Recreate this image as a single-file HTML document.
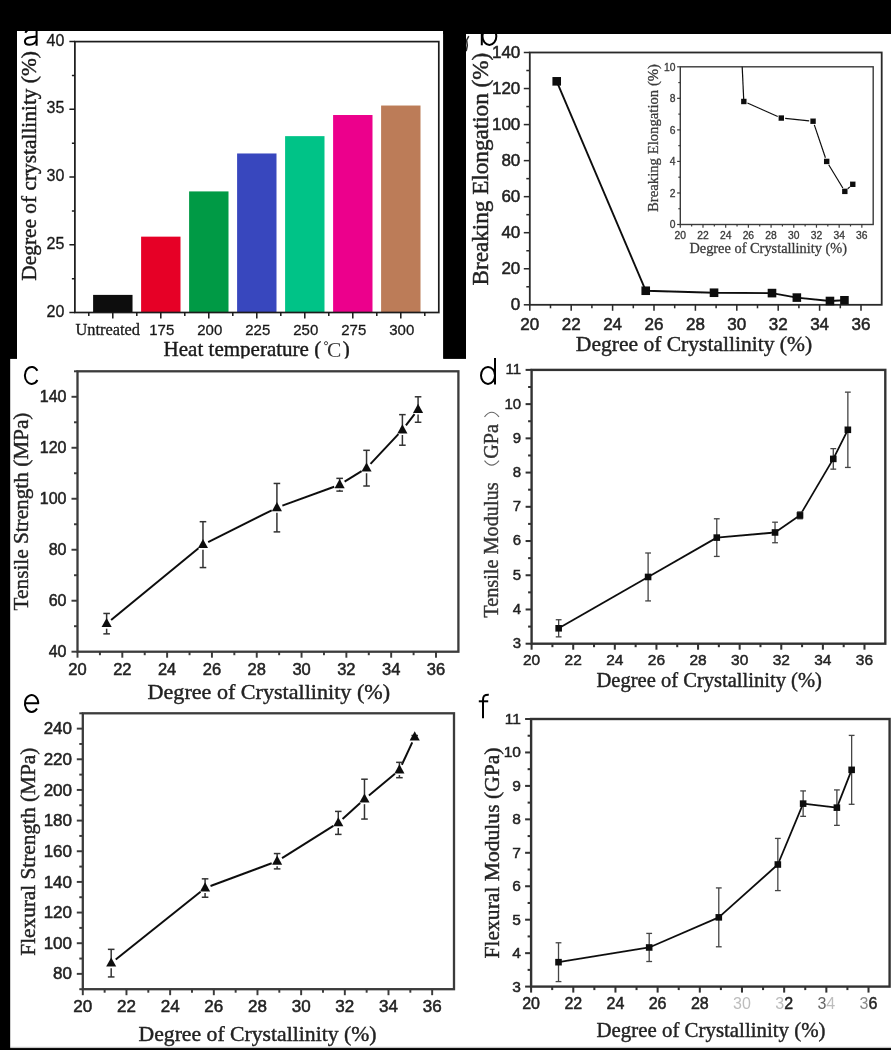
<!DOCTYPE html>
<html><head><meta charset="utf-8"><title>Figure</title>
<style>
html,body{margin:0;padding:0;background:#000;}
body{width:891px;height:1050px;overflow:hidden;font-family:"Liberation Sans",sans-serif;}
svg{display:block;}
</style></head><body>
<svg width="891" height="1050" viewBox="0 0 891 1050">
<defs>
<filter id="bl" x="-2%" y="-2%" width="104%" height="104%"><feGaussianBlur stdDeviation="0.7"/></filter>
<clipPath id="cpA"><rect x="17" y="31" width="426.3" height="327.6"/></clipPath>
<clipPath id="cpB"><rect x="466" y="34" width="425" height="326"/></clipPath>
<clipPath id="cpIn"><rect x="680.3" y="66.8" width="193" height="158"/></clipPath>
</defs>
<rect x="0" y="0" width="891" height="1050" fill="#000"/>

<rect x="17" y="31" width="426.3" height="328" fill="#fff"/>
<rect x="466" y="34" width="425" height="326" fill="#fff"/>
<rect x="10.1" y="358.7" width="881" height="688.3" fill="#fff"/>
<rect x="10.1" y="1046.8" width="881" height="1.5" fill="#c8c8c8"/>
<g filter="url(#bl)">
<g clip-path="url(#cpA)">
<rect x="93.10" y="294.89" width="39.4" height="17.61" fill="#0a0a0a"/>
<rect x="141.10" y="236.65" width="39.4" height="75.85" fill="#e60027"/>
<rect x="189.10" y="191.41" width="39.4" height="121.09" fill="#009a44"/>
<rect x="237.10" y="153.48" width="39.4" height="159.02" fill="#3846be"/>
<rect x="285.10" y="136.14" width="39.4" height="176.36" fill="#00c387"/>
<rect x="333.10" y="115.01" width="39.4" height="197.49" fill="#ec008c"/>
<rect x="381.10" y="105.53" width="39.4" height="206.97" fill="#bc7c58"/>
<rect x="74.90" y="41.60" width="363.90" height="270.90" fill="none" stroke="#1a1a1a" stroke-width="1.7"/>
<line x1="88.80" y1="312.50" x2="88.80" y2="316.00" stroke="#1a1a1a" stroke-width="1.5" />
<line x1="112.80" y1="312.50" x2="112.80" y2="318.50" stroke="#1a1a1a" stroke-width="1.5" />
<line x1="136.80" y1="312.50" x2="136.80" y2="316.00" stroke="#1a1a1a" stroke-width="1.5" />
<line x1="160.80" y1="312.50" x2="160.80" y2="318.50" stroke="#1a1a1a" stroke-width="1.5" />
<line x1="184.80" y1="312.50" x2="184.80" y2="316.00" stroke="#1a1a1a" stroke-width="1.5" />
<line x1="208.80" y1="312.50" x2="208.80" y2="318.50" stroke="#1a1a1a" stroke-width="1.5" />
<line x1="232.80" y1="312.50" x2="232.80" y2="316.00" stroke="#1a1a1a" stroke-width="1.5" />
<line x1="256.80" y1="312.50" x2="256.80" y2="318.50" stroke="#1a1a1a" stroke-width="1.5" />
<line x1="280.80" y1="312.50" x2="280.80" y2="316.00" stroke="#1a1a1a" stroke-width="1.5" />
<line x1="304.80" y1="312.50" x2="304.80" y2="318.50" stroke="#1a1a1a" stroke-width="1.5" />
<line x1="328.80" y1="312.50" x2="328.80" y2="316.00" stroke="#1a1a1a" stroke-width="1.5" />
<line x1="352.80" y1="312.50" x2="352.80" y2="318.50" stroke="#1a1a1a" stroke-width="1.5" />
<line x1="376.80" y1="312.50" x2="376.80" y2="316.00" stroke="#1a1a1a" stroke-width="1.5" />
<line x1="400.80" y1="312.50" x2="400.80" y2="318.50" stroke="#1a1a1a" stroke-width="1.5" />
<line x1="424.80" y1="312.50" x2="424.80" y2="316.00" stroke="#1a1a1a" stroke-width="1.5" />
<line x1="69.40" y1="312.50" x2="74.90" y2="312.50" stroke="#1a1a1a" stroke-width="1.5" />
<text x="64.40" y="316.66" font-family='"Liberation Sans", sans-serif' font-size="16" text-anchor="end" fill="#1a1a1a" stroke="#1a1a1a" stroke-width="0.311" >20</text>
<line x1="71.90" y1="278.64" x2="74.90" y2="278.64" stroke="#1a1a1a" stroke-width="1.5" />
<line x1="69.40" y1="244.78" x2="74.90" y2="244.78" stroke="#1a1a1a" stroke-width="1.5" />
<text x="64.40" y="248.94" font-family='"Liberation Sans", sans-serif' font-size="16" text-anchor="end" fill="#1a1a1a" stroke="#1a1a1a" stroke-width="0.311" >25</text>
<line x1="71.90" y1="210.91" x2="74.90" y2="210.91" stroke="#1a1a1a" stroke-width="1.5" />
<line x1="69.40" y1="177.05" x2="74.90" y2="177.05" stroke="#1a1a1a" stroke-width="1.5" />
<text x="64.40" y="181.21" font-family='"Liberation Sans", sans-serif' font-size="16" text-anchor="end" fill="#1a1a1a" stroke="#1a1a1a" stroke-width="0.311" >30</text>
<line x1="71.90" y1="143.19" x2="74.90" y2="143.19" stroke="#1a1a1a" stroke-width="1.5" />
<line x1="69.40" y1="109.33" x2="74.90" y2="109.33" stroke="#1a1a1a" stroke-width="1.5" />
<text x="64.40" y="113.49" font-family='"Liberation Sans", sans-serif' font-size="16" text-anchor="end" fill="#1a1a1a" stroke="#1a1a1a" stroke-width="0.311" >35</text>
<line x1="71.90" y1="75.46" x2="74.90" y2="75.46" stroke="#1a1a1a" stroke-width="1.5" />
<line x1="69.40" y1="41.60" x2="74.90" y2="41.60" stroke="#1a1a1a" stroke-width="1.5" />
<text x="64.40" y="45.76" font-family='"Liberation Sans", sans-serif' font-size="16" text-anchor="end" fill="#1a1a1a" stroke="#1a1a1a" stroke-width="0.311" >40</text>
<text x="107.80" y="334.60" font-family='"Liberation Serif", serif' font-size="16" text-anchor="middle" fill="#1a1a1a" stroke="#1a1a1a" stroke-width="0.311" textLength="64.5" lengthAdjust="spacingAndGlyphs" >Untreated</text>
<text x="161.80" y="334.60" font-family='"Liberation Sans", sans-serif' font-size="15" text-anchor="middle" fill="#1a1a1a" stroke="#1a1a1a" stroke-width="0.292" >175</text>
<text x="209.80" y="334.60" font-family='"Liberation Sans", sans-serif' font-size="15" text-anchor="middle" fill="#1a1a1a" stroke="#1a1a1a" stroke-width="0.292" >200</text>
<text x="257.80" y="334.60" font-family='"Liberation Sans", sans-serif' font-size="15" text-anchor="middle" fill="#1a1a1a" stroke="#1a1a1a" stroke-width="0.292" >225</text>
<text x="305.80" y="334.60" font-family='"Liberation Sans", sans-serif' font-size="15" text-anchor="middle" fill="#1a1a1a" stroke="#1a1a1a" stroke-width="0.292" >250</text>
<text x="353.80" y="334.60" font-family='"Liberation Sans", sans-serif' font-size="15" text-anchor="middle" fill="#1a1a1a" stroke="#1a1a1a" stroke-width="0.292" >275</text>
<text x="401.80" y="334.60" font-family='"Liberation Sans", sans-serif' font-size="15" text-anchor="middle" fill="#1a1a1a" stroke="#1a1a1a" stroke-width="0.292" >300</text>
<text x="321.20" y="356.40" font-family='"Liberation Serif", serif' font-size="21" text-anchor="end" fill="#1a1a1a" stroke="#1a1a1a" stroke-width="0.408" textLength="157.6" lengthAdjust="spacingAndGlyphs" >Heat temperature (</text>
<circle cx="326" cy="343.2" r="1.6" fill="none" stroke="#333" stroke-width="0.9"/>
<text x="327.00" y="356.60" font-family='"Liberation Serif", serif' font-size="21.5" text-anchor="start" fill="#333" >C</text>
<text x="342.80" y="356.40" font-family='"Liberation Serif", serif' font-size="21" text-anchor="start" fill="#1a1a1a" stroke="#1a1a1a" stroke-width="0.408" >)</text>
<text x="35.70" y="165.90" font-family='"Liberation Serif", serif' font-size="21.4" text-anchor="middle" fill="#1a1a1a" stroke="#1a1a1a" stroke-width="0.416" transform="rotate(-90 35.70 165.90)" textLength="229.6" lengthAdjust="spacingAndGlyphs" >Degree of crystallinity (%)</text>
<path d="M36.6,28 V45.8" fill="none" stroke="#000" stroke-width="2.0" stroke-linecap="butt" stroke-linejoin="round"/>
<path d="M36.6,36.6 L30.5,37.2 C27,37.6 24.9,39 24.9,41.3 C24.9,43.6 26.8,44.8 29.5,44.8 C33,44.8 36.6,42.5 36.6,39.5" fill="none" stroke="#000" stroke-width="2.0" stroke-linecap="butt" stroke-linejoin="round"/>
<path d="M25.3,32.8 C26.3,30.8 28,29.6 30.5,29.2" fill="none" stroke="#000" stroke-width="2.0" stroke-linecap="butt" stroke-linejoin="round"/>
</g>
<g clip-path="url(#cpB)">
<rect x="529.80" y="52.50" width="351.90" height="252.30" fill="none" stroke="#2a2a2a" stroke-width="1.8"/>
<line x1="529.80" y1="304.80" x2="529.80" y2="310.80" stroke="#2a2a2a" stroke-width="1.53" />
<line x1="550.50" y1="304.80" x2="550.50" y2="308.30" stroke="#2a2a2a" stroke-width="1.53" />
<line x1="571.20" y1="304.80" x2="571.20" y2="310.80" stroke="#2a2a2a" stroke-width="1.53" />
<line x1="591.90" y1="304.80" x2="591.90" y2="308.30" stroke="#2a2a2a" stroke-width="1.53" />
<line x1="612.60" y1="304.80" x2="612.60" y2="310.80" stroke="#2a2a2a" stroke-width="1.53" />
<line x1="633.30" y1="304.80" x2="633.30" y2="308.30" stroke="#2a2a2a" stroke-width="1.53" />
<line x1="654.00" y1="304.80" x2="654.00" y2="310.80" stroke="#2a2a2a" stroke-width="1.53" />
<line x1="674.70" y1="304.80" x2="674.70" y2="308.30" stroke="#2a2a2a" stroke-width="1.53" />
<line x1="695.40" y1="304.80" x2="695.40" y2="310.80" stroke="#2a2a2a" stroke-width="1.53" />
<line x1="716.10" y1="304.80" x2="716.10" y2="308.30" stroke="#2a2a2a" stroke-width="1.53" />
<line x1="736.80" y1="304.80" x2="736.80" y2="310.80" stroke="#2a2a2a" stroke-width="1.53" />
<line x1="757.50" y1="304.80" x2="757.50" y2="308.30" stroke="#2a2a2a" stroke-width="1.53" />
<line x1="778.20" y1="304.80" x2="778.20" y2="310.80" stroke="#2a2a2a" stroke-width="1.53" />
<line x1="798.90" y1="304.80" x2="798.90" y2="308.30" stroke="#2a2a2a" stroke-width="1.53" />
<line x1="819.60" y1="304.80" x2="819.60" y2="310.80" stroke="#2a2a2a" stroke-width="1.53" />
<line x1="840.30" y1="304.80" x2="840.30" y2="308.30" stroke="#2a2a2a" stroke-width="1.53" />
<line x1="861.00" y1="304.80" x2="861.00" y2="310.80" stroke="#2a2a2a" stroke-width="1.53" />
<text x="529.80" y="330.00" font-family='"Liberation Sans", sans-serif' font-size="17" text-anchor="middle" fill="#222" stroke="#222" stroke-width="0.519" >20</text>
<text x="571.20" y="330.00" font-family='"Liberation Sans", sans-serif' font-size="17" text-anchor="middle" fill="#222" stroke="#222" stroke-width="0.519" >22</text>
<text x="612.60" y="330.00" font-family='"Liberation Sans", sans-serif' font-size="17" text-anchor="middle" fill="#222" stroke="#222" stroke-width="0.519" >24</text>
<text x="654.00" y="330.00" font-family='"Liberation Sans", sans-serif' font-size="17" text-anchor="middle" fill="#222" stroke="#222" stroke-width="0.519" >26</text>
<text x="695.40" y="330.00" font-family='"Liberation Sans", sans-serif' font-size="17" text-anchor="middle" fill="#222" stroke="#222" stroke-width="0.519" >28</text>
<text x="736.80" y="330.00" font-family='"Liberation Sans", sans-serif' font-size="17" text-anchor="middle" fill="#222" stroke="#222" stroke-width="0.519" >30</text>
<text x="778.20" y="330.00" font-family='"Liberation Sans", sans-serif' font-size="17" text-anchor="middle" fill="#222" stroke="#222" stroke-width="0.519" >32</text>
<text x="819.60" y="330.00" font-family='"Liberation Sans", sans-serif' font-size="17" text-anchor="middle" fill="#222" stroke="#222" stroke-width="0.519" >34</text>
<text x="861.00" y="330.00" font-family='"Liberation Sans", sans-serif' font-size="17" text-anchor="middle" fill="#222" stroke="#222" stroke-width="0.519" >36</text>
<line x1="523.80" y1="304.80" x2="529.80" y2="304.80" stroke="#2a2a2a" stroke-width="1.53" />
<line x1="526.30" y1="286.78" x2="529.80" y2="286.78" stroke="#2a2a2a" stroke-width="1.53" />
<line x1="523.80" y1="268.76" x2="529.80" y2="268.76" stroke="#2a2a2a" stroke-width="1.53" />
<line x1="526.30" y1="250.74" x2="529.80" y2="250.74" stroke="#2a2a2a" stroke-width="1.53" />
<line x1="523.80" y1="232.71" x2="529.80" y2="232.71" stroke="#2a2a2a" stroke-width="1.53" />
<line x1="526.30" y1="214.69" x2="529.80" y2="214.69" stroke="#2a2a2a" stroke-width="1.53" />
<line x1="523.80" y1="196.67" x2="529.80" y2="196.67" stroke="#2a2a2a" stroke-width="1.53" />
<line x1="526.30" y1="178.65" x2="529.80" y2="178.65" stroke="#2a2a2a" stroke-width="1.53" />
<line x1="523.80" y1="160.63" x2="529.80" y2="160.63" stroke="#2a2a2a" stroke-width="1.53" />
<line x1="526.30" y1="142.61" x2="529.80" y2="142.61" stroke="#2a2a2a" stroke-width="1.53" />
<line x1="523.80" y1="124.59" x2="529.80" y2="124.59" stroke="#2a2a2a" stroke-width="1.53" />
<line x1="526.30" y1="106.56" x2="529.80" y2="106.56" stroke="#2a2a2a" stroke-width="1.53" />
<line x1="523.80" y1="88.54" x2="529.80" y2="88.54" stroke="#2a2a2a" stroke-width="1.53" />
<line x1="526.30" y1="70.52" x2="529.80" y2="70.52" stroke="#2a2a2a" stroke-width="1.53" />
<line x1="523.80" y1="52.50" x2="529.80" y2="52.50" stroke="#2a2a2a" stroke-width="1.53" />
<text x="520.30" y="310.12" font-family='"Liberation Sans", sans-serif' font-size="17" text-anchor="end" fill="#222" stroke="#222" stroke-width="0.519" >0</text>
<text x="520.30" y="274.08" font-family='"Liberation Sans", sans-serif' font-size="17" text-anchor="end" fill="#222" stroke="#222" stroke-width="0.519" >20</text>
<text x="520.30" y="238.03" font-family='"Liberation Sans", sans-serif' font-size="17" text-anchor="end" fill="#222" stroke="#222" stroke-width="0.519" >40</text>
<text x="520.30" y="201.99" font-family='"Liberation Sans", sans-serif' font-size="17" text-anchor="end" fill="#222" stroke="#222" stroke-width="0.519" >60</text>
<text x="520.30" y="165.95" font-family='"Liberation Sans", sans-serif' font-size="17" text-anchor="end" fill="#222" stroke="#222" stroke-width="0.519" >80</text>
<text x="520.30" y="129.91" font-family='"Liberation Sans", sans-serif' font-size="17" text-anchor="end" fill="#222" stroke="#222" stroke-width="0.519" >100</text>
<text x="520.30" y="93.86" font-family='"Liberation Sans", sans-serif' font-size="17" text-anchor="end" fill="#222" stroke="#222" stroke-width="0.519" >120</text>
<text x="520.30" y="57.82" font-family='"Liberation Sans", sans-serif' font-size="17" text-anchor="end" fill="#222" stroke="#222" stroke-width="0.519" >140</text>
<path d="M556.71,81.33 L645.72,290.74 M645.72,290.74 L714.03,292.73 M714.03,292.73 L771.99,293.09 M771.99,293.09 L796.83,297.59 M796.83,297.59 L829.95,301.02 M829.95,301.02 L844.44,300.29" fill="none" stroke="#111" stroke-width="1.9"/>
<rect x="552.41" y="77.03" width="8.6" height="8.6" fill="#111"/>
<rect x="641.42" y="286.44" width="8.6" height="8.6" fill="#111"/>
<rect x="709.73" y="288.43" width="8.6" height="8.6" fill="#111"/>
<rect x="767.69" y="288.79" width="8.6" height="8.6" fill="#111"/>
<rect x="792.53" y="293.29" width="8.6" height="8.6" fill="#111"/>
<rect x="825.65" y="296.72" width="8.6" height="8.6" fill="#111"/>
<rect x="840.14" y="295.99" width="8.6" height="8.6" fill="#111"/>
<text x="694.00" y="350.90" font-family='"Liberation Serif", serif' font-size="21.5" text-anchor="middle" fill="#222" stroke="#222" stroke-width="0.418" textLength="236.3" lengthAdjust="spacingAndGlyphs" >Degree of Crystallinity (%)</text>
<text x="487.60" y="169.10" font-family='"Liberation Serif", serif' font-size="23.2" text-anchor="middle" fill="#222" stroke="#222" stroke-width="0.451" transform="rotate(-90 487.60 169.10)" textLength="232.8" lengthAdjust="spacingAndGlyphs" >Breaking Elongation (%)</text>
<rect x="680.30" y="66.80" width="192.90" height="157.70" fill="none" stroke="#3a3a3a" stroke-width="1.4"/>
<line x1="680.30" y1="224.50" x2="680.30" y2="227.70" stroke="#3a3a3a" stroke-width="1.19" />
<line x1="691.65" y1="224.50" x2="691.65" y2="226.50" stroke="#3a3a3a" stroke-width="1.19" />
<line x1="702.99" y1="224.50" x2="702.99" y2="227.70" stroke="#3a3a3a" stroke-width="1.19" />
<line x1="714.34" y1="224.50" x2="714.34" y2="226.50" stroke="#3a3a3a" stroke-width="1.19" />
<line x1="725.69" y1="224.50" x2="725.69" y2="227.70" stroke="#3a3a3a" stroke-width="1.19" />
<line x1="737.04" y1="224.50" x2="737.04" y2="226.50" stroke="#3a3a3a" stroke-width="1.19" />
<line x1="748.38" y1="224.50" x2="748.38" y2="227.70" stroke="#3a3a3a" stroke-width="1.19" />
<line x1="759.73" y1="224.50" x2="759.73" y2="226.50" stroke="#3a3a3a" stroke-width="1.19" />
<line x1="771.08" y1="224.50" x2="771.08" y2="227.70" stroke="#3a3a3a" stroke-width="1.19" />
<line x1="782.42" y1="224.50" x2="782.42" y2="226.50" stroke="#3a3a3a" stroke-width="1.19" />
<line x1="793.77" y1="224.50" x2="793.77" y2="227.70" stroke="#3a3a3a" stroke-width="1.19" />
<line x1="805.12" y1="224.50" x2="805.12" y2="226.50" stroke="#3a3a3a" stroke-width="1.19" />
<line x1="816.46" y1="224.50" x2="816.46" y2="227.70" stroke="#3a3a3a" stroke-width="1.19" />
<line x1="827.81" y1="224.50" x2="827.81" y2="226.50" stroke="#3a3a3a" stroke-width="1.19" />
<line x1="839.16" y1="224.50" x2="839.16" y2="227.70" stroke="#3a3a3a" stroke-width="1.19" />
<line x1="850.51" y1="224.50" x2="850.51" y2="226.50" stroke="#3a3a3a" stroke-width="1.19" />
<line x1="861.85" y1="224.50" x2="861.85" y2="227.70" stroke="#3a3a3a" stroke-width="1.19" />
<text x="680.30" y="239.10" font-family='"Liberation Sans", sans-serif' font-size="10.3" text-anchor="middle" fill="#3a3a3a" stroke="#3a3a3a" stroke-width="0.315" >20</text>
<text x="702.99" y="239.10" font-family='"Liberation Sans", sans-serif' font-size="10.3" text-anchor="middle" fill="#3a3a3a" stroke="#3a3a3a" stroke-width="0.315" >22</text>
<text x="725.69" y="239.10" font-family='"Liberation Sans", sans-serif' font-size="10.3" text-anchor="middle" fill="#3a3a3a" stroke="#3a3a3a" stroke-width="0.315" >24</text>
<text x="748.38" y="239.10" font-family='"Liberation Sans", sans-serif' font-size="10.3" text-anchor="middle" fill="#3a3a3a" stroke="#3a3a3a" stroke-width="0.315" >26</text>
<text x="771.08" y="239.10" font-family='"Liberation Sans", sans-serif' font-size="10.3" text-anchor="middle" fill="#3a3a3a" stroke="#3a3a3a" stroke-width="0.315" >28</text>
<text x="793.77" y="239.10" font-family='"Liberation Sans", sans-serif' font-size="10.3" text-anchor="middle" fill="#3a3a3a" stroke="#3a3a3a" stroke-width="0.315" >30</text>
<text x="816.46" y="239.10" font-family='"Liberation Sans", sans-serif' font-size="10.3" text-anchor="middle" fill="#3a3a3a" stroke="#3a3a3a" stroke-width="0.315" >32</text>
<text x="839.16" y="239.10" font-family='"Liberation Sans", sans-serif' font-size="10.3" text-anchor="middle" fill="#3a3a3a" stroke="#3a3a3a" stroke-width="0.315" >34</text>
<text x="861.85" y="239.10" font-family='"Liberation Sans", sans-serif' font-size="10.3" text-anchor="middle" fill="#3a3a3a" stroke="#3a3a3a" stroke-width="0.315" >36</text>
<line x1="677.10" y1="224.50" x2="680.30" y2="224.50" stroke="#3a3a3a" stroke-width="1.19" />
<line x1="678.30" y1="208.73" x2="680.30" y2="208.73" stroke="#3a3a3a" stroke-width="1.19" />
<line x1="677.10" y1="192.96" x2="680.30" y2="192.96" stroke="#3a3a3a" stroke-width="1.19" />
<line x1="678.30" y1="177.19" x2="680.30" y2="177.19" stroke="#3a3a3a" stroke-width="1.19" />
<line x1="677.10" y1="161.42" x2="680.30" y2="161.42" stroke="#3a3a3a" stroke-width="1.19" />
<line x1="678.30" y1="145.65" x2="680.30" y2="145.65" stroke="#3a3a3a" stroke-width="1.19" />
<line x1="677.10" y1="129.88" x2="680.30" y2="129.88" stroke="#3a3a3a" stroke-width="1.19" />
<line x1="678.30" y1="114.11" x2="680.30" y2="114.11" stroke="#3a3a3a" stroke-width="1.19" />
<line x1="677.10" y1="98.34" x2="680.30" y2="98.34" stroke="#3a3a3a" stroke-width="1.19" />
<line x1="678.30" y1="82.57" x2="680.30" y2="82.57" stroke="#3a3a3a" stroke-width="1.19" />
<line x1="677.10" y1="66.80" x2="680.30" y2="66.80" stroke="#3a3a3a" stroke-width="1.19" />
<text x="675.50" y="228.21" font-family='"Liberation Sans", sans-serif' font-size="10.3" text-anchor="end" fill="#3a3a3a" stroke="#3a3a3a" stroke-width="0.315" >0</text>
<text x="675.50" y="196.67" font-family='"Liberation Sans", sans-serif' font-size="10.3" text-anchor="end" fill="#3a3a3a" stroke="#3a3a3a" stroke-width="0.315" >2</text>
<text x="675.50" y="165.13" font-family='"Liberation Sans", sans-serif' font-size="10.3" text-anchor="end" fill="#3a3a3a" stroke="#3a3a3a" stroke-width="0.315" >4</text>
<text x="675.50" y="133.59" font-family='"Liberation Sans", sans-serif' font-size="10.3" text-anchor="end" fill="#3a3a3a" stroke="#3a3a3a" stroke-width="0.315" >6</text>
<text x="675.50" y="102.05" font-family='"Liberation Sans", sans-serif' font-size="10.3" text-anchor="end" fill="#3a3a3a" stroke="#3a3a3a" stroke-width="0.315" >8</text>
<text x="675.50" y="70.51" font-family='"Liberation Sans", sans-serif' font-size="10.3" text-anchor="end" fill="#3a3a3a" stroke="#3a3a3a" stroke-width="0.315" >10</text>
<path d="M747.41,103.07 L777.72,116.48 M785.17,118.44 L809.18,120.82 M814.31,124.90 L825.43,157.73 M828.70,164.76 L842.81,188.05 M847.74,188.78 L849.87,186.88" fill="none" stroke="#111" stroke-width="1.2"/>
<rect x="741.14" y="98.79" width="5.4" height="5.4" fill="#111"/>
<rect x="778.59" y="115.35" width="5.4" height="5.4" fill="#111"/>
<rect x="810.36" y="118.51" width="5.4" height="5.4" fill="#111"/>
<rect x="823.98" y="158.72" width="5.4" height="5.4" fill="#111"/>
<rect x="842.13" y="188.68" width="5.4" height="5.4" fill="#111"/>
<rect x="850.08" y="181.59" width="5.4" height="5.4" fill="#111"/>
<text x="768.20" y="253.30" font-family='"Liberation Serif", serif' font-size="14.3" text-anchor="middle" fill="#3a3a3a" stroke="#3a3a3a" stroke-width="0.278" textLength="157.6" lengthAdjust="spacingAndGlyphs" >Degree of Crystallinity (%)</text>
<text x="657.60" y="138.00" font-family='"Liberation Serif", serif' font-size="14.6" text-anchor="middle" fill="#3a3a3a" stroke="#3a3a3a" stroke-width="0.284" transform="rotate(-90 657.60 138.00)" textLength="147.9" lengthAdjust="spacingAndGlyphs" >Breaking Elongation (%)</text>
<path d="M743.8,101.5 L742.2,66.8" stroke="#111" stroke-width="1.2" fill="none"/>
<path d="M481.8,28 V45.3" fill="none" stroke="#000" stroke-width="2.0" stroke-linecap="butt" stroke-linejoin="round"/>
<ellipse cx="489.4" cy="36.4" rx="6.9" ry="8.6" fill="none" stroke="#000" stroke-width="2.0"/>
<path d="M468.8,36.2 L466.6,40.2 L467.3,45.5 L466.2,51.2" fill="none" stroke="#2a2a2a" stroke-width="1.5"/>
</g>
<rect x="77.50" y="371.30" width="380.90" height="280.40" fill="none" stroke="#3a3a3a" stroke-width="2.3"/>
<line x1="77.50" y1="651.70" x2="77.50" y2="657.70" stroke="#3a3a3a" stroke-width="1.9549999999999998" />
<line x1="99.91" y1="651.70" x2="99.91" y2="655.20" stroke="#3a3a3a" stroke-width="1.9549999999999998" />
<line x1="122.31" y1="651.70" x2="122.31" y2="657.70" stroke="#3a3a3a" stroke-width="1.9549999999999998" />
<line x1="144.72" y1="651.70" x2="144.72" y2="655.20" stroke="#3a3a3a" stroke-width="1.9549999999999998" />
<line x1="167.12" y1="651.70" x2="167.12" y2="657.70" stroke="#3a3a3a" stroke-width="1.9549999999999998" />
<line x1="189.53" y1="651.70" x2="189.53" y2="655.20" stroke="#3a3a3a" stroke-width="1.9549999999999998" />
<line x1="211.94" y1="651.70" x2="211.94" y2="657.70" stroke="#3a3a3a" stroke-width="1.9549999999999998" />
<line x1="234.34" y1="651.70" x2="234.34" y2="655.20" stroke="#3a3a3a" stroke-width="1.9549999999999998" />
<line x1="256.75" y1="651.70" x2="256.75" y2="657.70" stroke="#3a3a3a" stroke-width="1.9549999999999998" />
<line x1="279.15" y1="651.70" x2="279.15" y2="655.20" stroke="#3a3a3a" stroke-width="1.9549999999999998" />
<line x1="301.56" y1="651.70" x2="301.56" y2="657.70" stroke="#3a3a3a" stroke-width="1.9549999999999998" />
<line x1="323.96" y1="651.70" x2="323.96" y2="655.20" stroke="#3a3a3a" stroke-width="1.9549999999999998" />
<line x1="346.37" y1="651.70" x2="346.37" y2="657.70" stroke="#3a3a3a" stroke-width="1.9549999999999998" />
<line x1="368.78" y1="651.70" x2="368.78" y2="655.20" stroke="#3a3a3a" stroke-width="1.9549999999999998" />
<line x1="391.18" y1="651.70" x2="391.18" y2="657.70" stroke="#3a3a3a" stroke-width="1.9549999999999998" />
<line x1="413.59" y1="651.70" x2="413.59" y2="655.20" stroke="#3a3a3a" stroke-width="1.9549999999999998" />
<line x1="435.99" y1="651.70" x2="435.99" y2="657.70" stroke="#3a3a3a" stroke-width="1.9549999999999998" />
<text x="77.50" y="674.70" font-family='"Liberation Sans", sans-serif' font-size="16.5" text-anchor="middle" fill="#222" stroke="#222" stroke-width="0.504" >20</text>
<text x="122.31" y="674.70" font-family='"Liberation Sans", sans-serif' font-size="16.5" text-anchor="middle" fill="#222" stroke="#222" stroke-width="0.504" >22</text>
<text x="167.12" y="674.70" font-family='"Liberation Sans", sans-serif' font-size="16.5" text-anchor="middle" fill="#222" stroke="#222" stroke-width="0.504" >24</text>
<text x="211.94" y="674.70" font-family='"Liberation Sans", sans-serif' font-size="16.5" text-anchor="middle" fill="#222" stroke="#222" stroke-width="0.504" >26</text>
<text x="256.75" y="674.70" font-family='"Liberation Sans", sans-serif' font-size="16.5" text-anchor="middle" fill="#222" stroke="#222" stroke-width="0.504" >28</text>
<text x="301.56" y="674.70" font-family='"Liberation Sans", sans-serif' font-size="16.5" text-anchor="middle" fill="#222" stroke="#222" stroke-width="0.504" >30</text>
<text x="346.37" y="674.70" font-family='"Liberation Sans", sans-serif' font-size="16.5" text-anchor="middle" fill="#222" stroke="#222" stroke-width="0.504" >32</text>
<text x="391.18" y="674.70" font-family='"Liberation Sans", sans-serif' font-size="16.5" text-anchor="middle" fill="#222" stroke="#222" stroke-width="0.504" >34</text>
<text x="435.99" y="674.70" font-family='"Liberation Sans", sans-serif' font-size="16.5" text-anchor="middle" fill="#222" stroke="#222" stroke-width="0.504" >36</text>
<line x1="71.50" y1="651.70" x2="77.50" y2="651.70" stroke="#3a3a3a" stroke-width="1.9549999999999998" />
<line x1="74.00" y1="626.21" x2="77.50" y2="626.21" stroke="#3a3a3a" stroke-width="1.9549999999999998" />
<line x1="71.50" y1="600.72" x2="77.50" y2="600.72" stroke="#3a3a3a" stroke-width="1.9549999999999998" />
<line x1="74.00" y1="575.23" x2="77.50" y2="575.23" stroke="#3a3a3a" stroke-width="1.9549999999999998" />
<line x1="71.50" y1="549.74" x2="77.50" y2="549.74" stroke="#3a3a3a" stroke-width="1.9549999999999998" />
<line x1="74.00" y1="524.25" x2="77.50" y2="524.25" stroke="#3a3a3a" stroke-width="1.9549999999999998" />
<line x1="71.50" y1="498.75" x2="77.50" y2="498.75" stroke="#3a3a3a" stroke-width="1.9549999999999998" />
<line x1="74.00" y1="473.26" x2="77.50" y2="473.26" stroke="#3a3a3a" stroke-width="1.9549999999999998" />
<line x1="71.50" y1="447.77" x2="77.50" y2="447.77" stroke="#3a3a3a" stroke-width="1.9549999999999998" />
<line x1="74.00" y1="422.28" x2="77.50" y2="422.28" stroke="#3a3a3a" stroke-width="1.9549999999999998" />
<line x1="71.50" y1="396.79" x2="77.50" y2="396.79" stroke="#3a3a3a" stroke-width="1.9549999999999998" />
<line x1="74.00" y1="371.30" x2="77.50" y2="371.30" stroke="#3a3a3a" stroke-width="1.9549999999999998" />
<text x="66.50" y="656.96" font-family='"Liberation Sans", sans-serif' font-size="16" text-anchor="end" fill="#222" stroke="#222" stroke-width="0.489" >40</text>
<text x="66.50" y="605.98" font-family='"Liberation Sans", sans-serif' font-size="16" text-anchor="end" fill="#222" stroke="#222" stroke-width="0.489" >60</text>
<text x="66.50" y="555.00" font-family='"Liberation Sans", sans-serif' font-size="16" text-anchor="end" fill="#222" stroke="#222" stroke-width="0.489" >80</text>
<text x="66.50" y="504.01" font-family='"Liberation Sans", sans-serif' font-size="16" text-anchor="end" fill="#222" stroke="#222" stroke-width="0.489" >100</text>
<text x="66.50" y="453.03" font-family='"Liberation Sans", sans-serif' font-size="16" text-anchor="end" fill="#222" stroke="#222" stroke-width="0.489" >120</text>
<text x="66.50" y="402.05" font-family='"Liberation Sans", sans-serif' font-size="16" text-anchor="end" fill="#222" stroke="#222" stroke-width="0.489" >140</text>
<path d="M111.11,619.98 L198.49,548.32 M208.16,542.04 L271.72,510.27 M282.36,505.68 L334.20,486.73 M344.59,481.69 L361.60,471.21 M370.50,463.93 L398.42,434.16 M405.92,425.33 L414.53,414.13" fill="none" stroke="#111" stroke-width="2.0"/>
<line x1="106.63" y1="613.46" x2="106.63" y2="623.66" stroke="#333" stroke-width="1.5" />
<line x1="106.63" y1="628.71" x2="106.63" y2="633.86" stroke="#333" stroke-width="1.5" />
<line x1="103.33" y1="613.46" x2="109.93" y2="613.46" stroke="#333" stroke-width="1.5" />
<line x1="103.33" y1="633.86" x2="109.93" y2="633.86" stroke="#333" stroke-width="1.5" />
<path d="M106.63,617.91 L111.69,627.11 L101.57,627.11 Z" fill="#111"/>
<line x1="202.97" y1="521.70" x2="202.97" y2="544.64" stroke="#333" stroke-width="1.5" />
<line x1="202.97" y1="549.69" x2="202.97" y2="567.58" stroke="#333" stroke-width="1.5" />
<line x1="199.67" y1="521.70" x2="206.27" y2="521.70" stroke="#333" stroke-width="1.5" />
<line x1="199.67" y1="567.58" x2="206.27" y2="567.58" stroke="#333" stroke-width="1.5" />
<path d="M202.97,538.89 L208.03,548.09 L197.91,548.09 Z" fill="#111"/>
<line x1="276.91" y1="483.46" x2="276.91" y2="507.68" stroke="#333" stroke-width="1.5" />
<line x1="276.91" y1="512.73" x2="276.91" y2="531.89" stroke="#333" stroke-width="1.5" />
<line x1="273.61" y1="483.46" x2="280.21" y2="483.46" stroke="#333" stroke-width="1.5" />
<line x1="273.61" y1="531.89" x2="280.21" y2="531.89" stroke="#333" stroke-width="1.5" />
<path d="M276.91,501.93 L281.97,511.13 L271.85,511.13 Z" fill="#111"/>
<line x1="339.65" y1="478.36" x2="339.65" y2="484.73" stroke="#333" stroke-width="1.5" />
<line x1="339.65" y1="489.78" x2="339.65" y2="491.11" stroke="#333" stroke-width="1.5" />
<line x1="336.35" y1="478.36" x2="342.95" y2="478.36" stroke="#333" stroke-width="1.5" />
<line x1="336.35" y1="491.11" x2="342.95" y2="491.11" stroke="#333" stroke-width="1.5" />
<path d="M339.65,478.98 L344.71,488.18 L334.59,488.18 Z" fill="#111"/>
<line x1="366.54" y1="450.32" x2="366.54" y2="468.17" stroke="#333" stroke-width="1.5" />
<line x1="366.54" y1="473.22" x2="366.54" y2="486.01" stroke="#333" stroke-width="1.5" />
<line x1="363.24" y1="450.32" x2="369.84" y2="450.32" stroke="#333" stroke-width="1.5" />
<line x1="363.24" y1="486.01" x2="369.84" y2="486.01" stroke="#333" stroke-width="1.5" />
<path d="M366.54,462.42 L371.60,471.62 L361.48,471.62 Z" fill="#111"/>
<line x1="402.39" y1="414.63" x2="402.39" y2="429.93" stroke="#333" stroke-width="1.5" />
<line x1="402.39" y1="434.98" x2="402.39" y2="445.22" stroke="#333" stroke-width="1.5" />
<line x1="399.09" y1="414.63" x2="405.69" y2="414.63" stroke="#333" stroke-width="1.5" />
<line x1="399.09" y1="445.22" x2="405.69" y2="445.22" stroke="#333" stroke-width="1.5" />
<path d="M402.39,424.18 L407.45,433.38 L397.33,433.38 Z" fill="#111"/>
<line x1="418.07" y1="396.79" x2="418.07" y2="409.54" stroke="#333" stroke-width="1.5" />
<line x1="418.07" y1="414.59" x2="418.07" y2="422.28" stroke="#333" stroke-width="1.5" />
<line x1="414.77" y1="396.79" x2="421.37" y2="396.79" stroke="#333" stroke-width="1.5" />
<line x1="414.77" y1="422.28" x2="421.37" y2="422.28" stroke="#333" stroke-width="1.5" />
<path d="M418.07,403.79 L423.13,412.99 L413.01,412.99 Z" fill="#111"/>
<text x="268.80" y="699.00" font-family='"Liberation Serif", serif' font-size="22" text-anchor="middle" fill="#222" stroke="#222" stroke-width="0.428" textLength="242.5" lengthAdjust="spacingAndGlyphs" >Degree of Crystallinity (%)</text>
<text x="28.30" y="511.50" font-family='"Liberation Serif", serif' font-size="21.2" text-anchor="middle" fill="#222" stroke="#222" stroke-width="0.412" transform="rotate(-90 28.30 511.50)" textLength="197.8" lengthAdjust="spacingAndGlyphs" >Tensile Strength (MPa)</text>
<path d="M37.40,370.77 A6.8,8.5 0 1 0 37.40,380.03" fill="none" stroke="#000" stroke-width="2.0" stroke-linecap="butt" stroke-linejoin="round"/>
<rect x="531.60" y="369.90" width="353.70" height="273.80" fill="none" stroke="#333" stroke-width="2.4"/>
<line x1="531.60" y1="643.70" x2="531.60" y2="649.70" stroke="#333" stroke-width="2.04" />
<line x1="552.41" y1="643.70" x2="552.41" y2="647.20" stroke="#333" stroke-width="2.04" />
<line x1="573.21" y1="643.70" x2="573.21" y2="649.70" stroke="#333" stroke-width="2.04" />
<line x1="594.02" y1="643.70" x2="594.02" y2="647.20" stroke="#333" stroke-width="2.04" />
<line x1="614.82" y1="643.70" x2="614.82" y2="649.70" stroke="#333" stroke-width="2.04" />
<line x1="635.63" y1="643.70" x2="635.63" y2="647.20" stroke="#333" stroke-width="2.04" />
<line x1="656.44" y1="643.70" x2="656.44" y2="649.70" stroke="#333" stroke-width="2.04" />
<line x1="677.24" y1="643.70" x2="677.24" y2="647.20" stroke="#333" stroke-width="2.04" />
<line x1="698.05" y1="643.70" x2="698.05" y2="649.70" stroke="#333" stroke-width="2.04" />
<line x1="718.85" y1="643.70" x2="718.85" y2="647.20" stroke="#333" stroke-width="2.04" />
<line x1="739.66" y1="643.70" x2="739.66" y2="649.70" stroke="#333" stroke-width="2.04" />
<line x1="760.46" y1="643.70" x2="760.46" y2="647.20" stroke="#333" stroke-width="2.04" />
<line x1="781.27" y1="643.70" x2="781.27" y2="649.70" stroke="#333" stroke-width="2.04" />
<line x1="802.08" y1="643.70" x2="802.08" y2="647.20" stroke="#333" stroke-width="2.04" />
<line x1="822.88" y1="643.70" x2="822.88" y2="649.70" stroke="#333" stroke-width="2.04" />
<line x1="843.69" y1="643.70" x2="843.69" y2="647.20" stroke="#333" stroke-width="2.04" />
<line x1="864.49" y1="643.70" x2="864.49" y2="649.70" stroke="#333" stroke-width="2.04" />
<text x="531.60" y="665.00" font-family='"Liberation Sans", sans-serif' font-size="15.5" text-anchor="middle" fill="#222" stroke="#222" stroke-width="0.474" >20</text>
<text x="573.21" y="665.00" font-family='"Liberation Sans", sans-serif' font-size="15.5" text-anchor="middle" fill="#222" stroke="#222" stroke-width="0.474" >22</text>
<text x="614.82" y="665.00" font-family='"Liberation Sans", sans-serif' font-size="15.5" text-anchor="middle" fill="#222" stroke="#222" stroke-width="0.474" >24</text>
<text x="656.44" y="665.00" font-family='"Liberation Sans", sans-serif' font-size="15.5" text-anchor="middle" fill="#222" stroke="#222" stroke-width="0.474" >26</text>
<text x="698.05" y="665.00" font-family='"Liberation Sans", sans-serif' font-size="15.5" text-anchor="middle" fill="#222" stroke="#222" stroke-width="0.474" >28</text>
<text x="739.66" y="665.00" font-family='"Liberation Sans", sans-serif' font-size="15.5" text-anchor="middle" fill="#222" stroke="#222" stroke-width="0.474" >30</text>
<text x="781.27" y="665.00" font-family='"Liberation Sans", sans-serif' font-size="15.5" text-anchor="middle" fill="#222" stroke="#222" stroke-width="0.474" >32</text>
<text x="822.88" y="665.00" font-family='"Liberation Sans", sans-serif' font-size="15.5" text-anchor="middle" fill="#222" stroke="#222" stroke-width="0.474" >34</text>
<text x="864.49" y="665.00" font-family='"Liberation Sans", sans-serif' font-size="15.5" text-anchor="middle" fill="#222" stroke="#222" stroke-width="0.474" >36</text>
<line x1="525.60" y1="643.70" x2="531.60" y2="643.70" stroke="#333" stroke-width="2.04" />
<line x1="528.10" y1="626.59" x2="531.60" y2="626.59" stroke="#333" stroke-width="2.04" />
<line x1="525.60" y1="609.48" x2="531.60" y2="609.48" stroke="#333" stroke-width="2.04" />
<line x1="528.10" y1="592.36" x2="531.60" y2="592.36" stroke="#333" stroke-width="2.04" />
<line x1="525.60" y1="575.25" x2="531.60" y2="575.25" stroke="#333" stroke-width="2.04" />
<line x1="528.10" y1="558.14" x2="531.60" y2="558.14" stroke="#333" stroke-width="2.04" />
<line x1="525.60" y1="541.02" x2="531.60" y2="541.02" stroke="#333" stroke-width="2.04" />
<line x1="528.10" y1="523.91" x2="531.60" y2="523.91" stroke="#333" stroke-width="2.04" />
<line x1="525.60" y1="506.80" x2="531.60" y2="506.80" stroke="#333" stroke-width="2.04" />
<line x1="528.10" y1="489.69" x2="531.60" y2="489.69" stroke="#333" stroke-width="2.04" />
<line x1="525.60" y1="472.57" x2="531.60" y2="472.57" stroke="#333" stroke-width="2.04" />
<line x1="528.10" y1="455.46" x2="531.60" y2="455.46" stroke="#333" stroke-width="2.04" />
<line x1="525.60" y1="438.35" x2="531.60" y2="438.35" stroke="#333" stroke-width="2.04" />
<line x1="528.10" y1="421.24" x2="531.60" y2="421.24" stroke="#333" stroke-width="2.04" />
<line x1="525.60" y1="404.12" x2="531.60" y2="404.12" stroke="#333" stroke-width="2.04" />
<line x1="528.10" y1="387.01" x2="531.60" y2="387.01" stroke="#333" stroke-width="2.04" />
<line x1="525.60" y1="369.90" x2="531.60" y2="369.90" stroke="#333" stroke-width="2.04" />
<text x="521.10" y="648.10" font-family='"Liberation Sans", sans-serif' font-size="15" text-anchor="end" fill="#222" stroke="#222" stroke-width="0.458" >3</text>
<text x="521.10" y="613.88" font-family='"Liberation Sans", sans-serif' font-size="15" text-anchor="end" fill="#222" stroke="#222" stroke-width="0.458" >4</text>
<text x="521.10" y="579.65" font-family='"Liberation Sans", sans-serif' font-size="15" text-anchor="end" fill="#222" stroke="#222" stroke-width="0.458" >5</text>
<text x="521.10" y="545.42" font-family='"Liberation Sans", sans-serif' font-size="15" text-anchor="end" fill="#222" stroke="#222" stroke-width="0.458" >6</text>
<text x="521.10" y="511.20" font-family='"Liberation Sans", sans-serif' font-size="15" text-anchor="end" fill="#222" stroke="#222" stroke-width="0.458" >7</text>
<text x="521.10" y="476.97" font-family='"Liberation Sans", sans-serif' font-size="15" text-anchor="end" fill="#222" stroke="#222" stroke-width="0.458" >8</text>
<text x="521.10" y="442.75" font-family='"Liberation Sans", sans-serif' font-size="15" text-anchor="end" fill="#222" stroke="#222" stroke-width="0.458" >9</text>
<text x="521.10" y="408.52" font-family='"Liberation Sans", sans-serif' font-size="15" text-anchor="end" fill="#222" stroke="#222" stroke-width="0.458" >10</text>
<text x="521.10" y="374.30" font-family='"Liberation Sans", sans-serif' font-size="15" text-anchor="end" fill="#222" stroke="#222" stroke-width="0.458" >11</text>
<path d="M558.65,628.30 L648.11,576.96 M648.11,576.96 L716.77,537.60 M716.77,537.60 L775.03,532.47 M775.03,532.47 L800.00,515.36 M800.00,515.36 L833.29,458.88 M833.29,458.88 L847.85,429.79" fill="none" stroke="#111" stroke-width="1.8"/>
<line x1="558.65" y1="619.74" x2="558.65" y2="636.86" stroke="#444" stroke-width="1.3" />
<line x1="555.75" y1="619.74" x2="561.55" y2="619.74" stroke="#444" stroke-width="1.3" />
<line x1="555.75" y1="636.86" x2="561.55" y2="636.86" stroke="#444" stroke-width="1.3" />
<rect x="555.35" y="625.00" width="6.6" height="6.6" fill="#111"/>
<line x1="648.11" y1="553.00" x2="648.11" y2="600.92" stroke="#444" stroke-width="1.3" />
<line x1="645.21" y1="553.00" x2="651.01" y2="553.00" stroke="#444" stroke-width="1.3" />
<line x1="645.21" y1="600.92" x2="651.01" y2="600.92" stroke="#444" stroke-width="1.3" />
<rect x="644.81" y="573.66" width="6.6" height="6.6" fill="#111"/>
<line x1="716.77" y1="518.78" x2="716.77" y2="556.43" stroke="#444" stroke-width="1.3" />
<line x1="713.87" y1="518.78" x2="719.67" y2="518.78" stroke="#444" stroke-width="1.3" />
<line x1="713.87" y1="556.43" x2="719.67" y2="556.43" stroke="#444" stroke-width="1.3" />
<rect x="713.47" y="534.30" width="6.6" height="6.6" fill="#111"/>
<line x1="775.03" y1="522.20" x2="775.03" y2="542.74" stroke="#444" stroke-width="1.3" />
<line x1="772.13" y1="522.20" x2="777.93" y2="522.20" stroke="#444" stroke-width="1.3" />
<line x1="772.13" y1="542.74" x2="777.93" y2="542.74" stroke="#444" stroke-width="1.3" />
<rect x="771.73" y="529.17" width="6.6" height="6.6" fill="#111"/>
<line x1="800.00" y1="511.93" x2="800.00" y2="518.78" stroke="#444" stroke-width="1.3" />
<line x1="797.10" y1="511.93" x2="802.90" y2="511.93" stroke="#444" stroke-width="1.3" />
<line x1="797.10" y1="518.78" x2="802.90" y2="518.78" stroke="#444" stroke-width="1.3" />
<rect x="796.70" y="512.06" width="6.6" height="6.6" fill="#111"/>
<line x1="833.29" y1="448.62" x2="833.29" y2="469.15" stroke="#444" stroke-width="1.3" />
<line x1="830.39" y1="448.62" x2="836.19" y2="448.62" stroke="#444" stroke-width="1.3" />
<line x1="830.39" y1="469.15" x2="836.19" y2="469.15" stroke="#444" stroke-width="1.3" />
<rect x="829.99" y="455.58" width="6.6" height="6.6" fill="#111"/>
<line x1="847.85" y1="392.15" x2="847.85" y2="467.44" stroke="#444" stroke-width="1.3" />
<line x1="844.95" y1="392.15" x2="850.75" y2="392.15" stroke="#444" stroke-width="1.3" />
<line x1="844.95" y1="467.44" x2="850.75" y2="467.44" stroke="#444" stroke-width="1.3" />
<rect x="844.55" y="426.49" width="6.6" height="6.6" fill="#111"/>
<text x="709.20" y="686.60" font-family='"Liberation Serif", serif' font-size="20.5" text-anchor="middle" fill="#222" stroke="#222" stroke-width="0.399" textLength="225.4" lengthAdjust="spacingAndGlyphs" >Degree of Crystallinity (%)</text>
<text x="498.00" y="617.80" font-family='"Liberation Serif", serif' font-size="20.2" text-anchor="start" fill="#333" stroke="#333" stroke-width="0.393" transform="rotate(-90 498.00 617.80)" textLength="135.5" lengthAdjust="spacingAndGlyphs" >Tensile Modulus</text>
<path d="M484.5,460.6 Q491.7,469.6 499,460.6" fill="none" stroke="#666" stroke-width="1.1"/>
<text x="498.00" y="458.80" font-family='"Liberation Serif", serif' font-size="20.2" text-anchor="start" fill="#333" stroke="#333" stroke-width="0.393" transform="rotate(-90 498.00 458.80)" textLength="34.7" lengthAdjust="spacingAndGlyphs" >GPa</text>
<path d="M484.5,416.8 Q491.7,407.8 499,416.8" fill="none" stroke="#666" stroke-width="1.1"/>
<path d="M495,358 V384.4" fill="none" stroke="#000" stroke-width="2.0" stroke-linecap="butt" stroke-linejoin="round"/>
<ellipse cx="488" cy="375.4" rx="7" ry="8.5" fill="none" stroke="#000" stroke-width="2.0"/>
<rect x="82.80" y="713.30" width="371.20" height="275.90" fill="none" stroke="#3a3a3a" stroke-width="2.3"/>
<line x1="82.80" y1="989.20" x2="82.80" y2="995.20" stroke="#3a3a3a" stroke-width="1.9549999999999998" />
<line x1="104.64" y1="989.20" x2="104.64" y2="992.70" stroke="#3a3a3a" stroke-width="1.9549999999999998" />
<line x1="126.47" y1="989.20" x2="126.47" y2="995.20" stroke="#3a3a3a" stroke-width="1.9549999999999998" />
<line x1="148.31" y1="989.20" x2="148.31" y2="992.70" stroke="#3a3a3a" stroke-width="1.9549999999999998" />
<line x1="170.14" y1="989.20" x2="170.14" y2="995.20" stroke="#3a3a3a" stroke-width="1.9549999999999998" />
<line x1="191.98" y1="989.20" x2="191.98" y2="992.70" stroke="#3a3a3a" stroke-width="1.9549999999999998" />
<line x1="213.81" y1="989.20" x2="213.81" y2="995.20" stroke="#3a3a3a" stroke-width="1.9549999999999998" />
<line x1="235.65" y1="989.20" x2="235.65" y2="992.70" stroke="#3a3a3a" stroke-width="1.9549999999999998" />
<line x1="257.48" y1="989.20" x2="257.48" y2="995.20" stroke="#3a3a3a" stroke-width="1.9549999999999998" />
<line x1="279.32" y1="989.20" x2="279.32" y2="992.70" stroke="#3a3a3a" stroke-width="1.9549999999999998" />
<line x1="301.15" y1="989.20" x2="301.15" y2="995.20" stroke="#3a3a3a" stroke-width="1.9549999999999998" />
<line x1="322.99" y1="989.20" x2="322.99" y2="992.70" stroke="#3a3a3a" stroke-width="1.9549999999999998" />
<line x1="344.82" y1="989.20" x2="344.82" y2="995.20" stroke="#3a3a3a" stroke-width="1.9549999999999998" />
<line x1="366.66" y1="989.20" x2="366.66" y2="992.70" stroke="#3a3a3a" stroke-width="1.9549999999999998" />
<line x1="388.49" y1="989.20" x2="388.49" y2="995.20" stroke="#3a3a3a" stroke-width="1.9549999999999998" />
<line x1="410.33" y1="989.20" x2="410.33" y2="992.70" stroke="#3a3a3a" stroke-width="1.9549999999999998" />
<line x1="432.16" y1="989.20" x2="432.16" y2="995.20" stroke="#3a3a3a" stroke-width="1.9549999999999998" />
<text x="82.80" y="1011.50" font-family='"Liberation Sans", sans-serif' font-size="17" text-anchor="middle" fill="#222" stroke="#222" stroke-width="0.519" >20</text>
<text x="126.47" y="1011.50" font-family='"Liberation Sans", sans-serif' font-size="17" text-anchor="middle" fill="#222" stroke="#222" stroke-width="0.519" >22</text>
<text x="170.14" y="1011.50" font-family='"Liberation Sans", sans-serif' font-size="17" text-anchor="middle" fill="#222" stroke="#222" stroke-width="0.519" >24</text>
<text x="213.81" y="1011.50" font-family='"Liberation Sans", sans-serif' font-size="17" text-anchor="middle" fill="#222" stroke="#222" stroke-width="0.519" >26</text>
<text x="257.48" y="1011.50" font-family='"Liberation Sans", sans-serif' font-size="17" text-anchor="middle" fill="#222" stroke="#222" stroke-width="0.519" >28</text>
<text x="301.15" y="1011.50" font-family='"Liberation Sans", sans-serif' font-size="17" text-anchor="middle" fill="#222" stroke="#222" stroke-width="0.519" >30</text>
<text x="344.82" y="1011.50" font-family='"Liberation Sans", sans-serif' font-size="17" text-anchor="middle" fill="#222" stroke="#222" stroke-width="0.519" >32</text>
<text x="388.49" y="1011.50" font-family='"Liberation Sans", sans-serif' font-size="17" text-anchor="middle" fill="#222" stroke="#222" stroke-width="0.519" >34</text>
<text x="432.16" y="1011.50" font-family='"Liberation Sans", sans-serif' font-size="17" text-anchor="middle" fill="#222" stroke="#222" stroke-width="0.519" >36</text>
<line x1="79.30" y1="989.20" x2="82.80" y2="989.20" stroke="#3a3a3a" stroke-width="1.9549999999999998" />
<line x1="76.80" y1="973.87" x2="82.80" y2="973.87" stroke="#3a3a3a" stroke-width="1.9549999999999998" />
<line x1="79.30" y1="958.54" x2="82.80" y2="958.54" stroke="#3a3a3a" stroke-width="1.9549999999999998" />
<line x1="76.80" y1="943.22" x2="82.80" y2="943.22" stroke="#3a3a3a" stroke-width="1.9549999999999998" />
<line x1="79.30" y1="927.89" x2="82.80" y2="927.89" stroke="#3a3a3a" stroke-width="1.9549999999999998" />
<line x1="76.80" y1="912.56" x2="82.80" y2="912.56" stroke="#3a3a3a" stroke-width="1.9549999999999998" />
<line x1="79.30" y1="897.23" x2="82.80" y2="897.23" stroke="#3a3a3a" stroke-width="1.9549999999999998" />
<line x1="76.80" y1="881.91" x2="82.80" y2="881.91" stroke="#3a3a3a" stroke-width="1.9549999999999998" />
<line x1="79.30" y1="866.58" x2="82.80" y2="866.58" stroke="#3a3a3a" stroke-width="1.9549999999999998" />
<line x1="76.80" y1="851.25" x2="82.80" y2="851.25" stroke="#3a3a3a" stroke-width="1.9549999999999998" />
<line x1="79.30" y1="835.92" x2="82.80" y2="835.92" stroke="#3a3a3a" stroke-width="1.9549999999999998" />
<line x1="76.80" y1="820.59" x2="82.80" y2="820.59" stroke="#3a3a3a" stroke-width="1.9549999999999998" />
<line x1="79.30" y1="805.27" x2="82.80" y2="805.27" stroke="#3a3a3a" stroke-width="1.9549999999999998" />
<line x1="76.80" y1="789.94" x2="82.80" y2="789.94" stroke="#3a3a3a" stroke-width="1.9549999999999998" />
<line x1="79.30" y1="774.61" x2="82.80" y2="774.61" stroke="#3a3a3a" stroke-width="1.9549999999999998" />
<line x1="76.80" y1="759.28" x2="82.80" y2="759.28" stroke="#3a3a3a" stroke-width="1.9549999999999998" />
<line x1="79.30" y1="743.96" x2="82.80" y2="743.96" stroke="#3a3a3a" stroke-width="1.9549999999999998" />
<line x1="76.80" y1="728.63" x2="82.80" y2="728.63" stroke="#3a3a3a" stroke-width="1.9549999999999998" />
<line x1="79.30" y1="713.30" x2="82.80" y2="713.30" stroke="#3a3a3a" stroke-width="1.9549999999999998" />
<text x="72.00" y="979.49" font-family='"Liberation Sans", sans-serif' font-size="17" text-anchor="end" fill="#222" stroke="#222" stroke-width="0.519" >80</text>
<text x="72.00" y="948.84" font-family='"Liberation Sans", sans-serif' font-size="17" text-anchor="end" fill="#222" stroke="#222" stroke-width="0.519" >100</text>
<text x="72.00" y="918.18" font-family='"Liberation Sans", sans-serif' font-size="17" text-anchor="end" fill="#222" stroke="#222" stroke-width="0.519" >120</text>
<text x="72.00" y="887.53" font-family='"Liberation Sans", sans-serif' font-size="17" text-anchor="end" fill="#222" stroke="#222" stroke-width="0.519" >140</text>
<text x="72.00" y="856.87" font-family='"Liberation Sans", sans-serif' font-size="17" text-anchor="end" fill="#222" stroke="#222" stroke-width="0.519" >160</text>
<text x="72.00" y="826.21" font-family='"Liberation Sans", sans-serif' font-size="17" text-anchor="end" fill="#222" stroke="#222" stroke-width="0.519" >180</text>
<text x="72.00" y="795.56" font-family='"Liberation Sans", sans-serif' font-size="17" text-anchor="end" fill="#222" stroke="#222" stroke-width="0.519" >200</text>
<text x="72.00" y="764.90" font-family='"Liberation Sans", sans-serif' font-size="17" text-anchor="end" fill="#222" stroke="#222" stroke-width="0.519" >220</text>
<text x="72.00" y="734.25" font-family='"Liberation Sans", sans-serif' font-size="17" text-anchor="end" fill="#222" stroke="#222" stroke-width="0.519" >240</text>
<path d="M115.72,959.52 L200.55,891.66 M210.51,886.01 L271.70,863.24 M282.05,858.13 L333.36,825.97 M342.57,819.00 L360.18,803.03 M368.93,795.42 L394.96,773.73 M401.85,764.75 L412.26,742.32" fill="none" stroke="#111" stroke-width="2.0"/>
<line x1="111.19" y1="949.35" x2="111.19" y2="963.14" stroke="#333" stroke-width="1.5" />
<line x1="111.19" y1="968.19" x2="111.19" y2="976.94" stroke="#333" stroke-width="1.5" />
<line x1="107.89" y1="949.35" x2="114.49" y2="949.35" stroke="#333" stroke-width="1.5" />
<line x1="107.89" y1="976.94" x2="114.49" y2="976.94" stroke="#333" stroke-width="1.5" />
<path d="M111.19,957.39 L116.25,966.59 L106.13,966.59 Z" fill="#111"/>
<line x1="205.08" y1="878.84" x2="205.08" y2="888.04" stroke="#333" stroke-width="1.5" />
<line x1="205.08" y1="893.09" x2="205.08" y2="897.23" stroke="#333" stroke-width="1.5" />
<line x1="201.78" y1="878.84" x2="208.38" y2="878.84" stroke="#333" stroke-width="1.5" />
<line x1="201.78" y1="897.23" x2="208.38" y2="897.23" stroke="#333" stroke-width="1.5" />
<path d="M205.08,882.29 L210.14,891.49 L200.02,891.49 Z" fill="#111"/>
<line x1="277.13" y1="853.55" x2="277.13" y2="861.21" stroke="#333" stroke-width="1.5" />
<line x1="277.13" y1="866.26" x2="277.13" y2="868.88" stroke="#333" stroke-width="1.5" />
<line x1="273.83" y1="853.55" x2="280.43" y2="853.55" stroke="#333" stroke-width="1.5" />
<line x1="273.83" y1="868.88" x2="280.43" y2="868.88" stroke="#333" stroke-width="1.5" />
<path d="M277.13,855.46 L282.19,864.66 L272.07,864.66 Z" fill="#111"/>
<line x1="338.27" y1="811.40" x2="338.27" y2="822.89" stroke="#333" stroke-width="1.5" />
<line x1="338.27" y1="827.94" x2="338.27" y2="834.39" stroke="#333" stroke-width="1.5" />
<line x1="334.97" y1="811.40" x2="341.57" y2="811.40" stroke="#333" stroke-width="1.5" />
<line x1="334.97" y1="834.39" x2="341.57" y2="834.39" stroke="#333" stroke-width="1.5" />
<path d="M338.27,817.14 L343.33,826.34 L333.21,826.34 Z" fill="#111"/>
<line x1="364.48" y1="779.21" x2="364.48" y2="799.14" stroke="#333" stroke-width="1.5" />
<line x1="364.48" y1="804.19" x2="364.48" y2="819.06" stroke="#333" stroke-width="1.5" />
<line x1="361.18" y1="779.21" x2="367.78" y2="779.21" stroke="#333" stroke-width="1.5" />
<line x1="361.18" y1="819.06" x2="367.78" y2="819.06" stroke="#333" stroke-width="1.5" />
<path d="M364.48,793.39 L369.54,802.59 L359.42,802.59 Z" fill="#111"/>
<line x1="399.41" y1="762.35" x2="399.41" y2="770.01" stroke="#333" stroke-width="1.5" />
<line x1="399.41" y1="775.06" x2="399.41" y2="777.68" stroke="#333" stroke-width="1.5" />
<line x1="396.11" y1="762.35" x2="402.71" y2="762.35" stroke="#333" stroke-width="1.5" />
<line x1="396.11" y1="777.68" x2="402.71" y2="777.68" stroke="#333" stroke-width="1.5" />
<path d="M399.41,764.26 L404.47,773.46 L394.35,773.46 Z" fill="#111"/>
<line x1="414.70" y1="735.53" x2="414.70" y2="737.06" stroke="#333" stroke-width="1.5" />
<line x1="411.40" y1="735.53" x2="418.00" y2="735.53" stroke="#333" stroke-width="1.5" />
<line x1="411.40" y1="738.59" x2="418.00" y2="738.59" stroke="#333" stroke-width="1.5" />
<path d="M414.70,731.31 L419.76,740.51 L409.64,740.51 Z" fill="#111"/>
<text x="257.50" y="1041.00" font-family='"Liberation Serif", serif' font-size="21.7" text-anchor="middle" fill="#222" stroke="#222" stroke-width="0.422" textLength="238.0" lengthAdjust="spacingAndGlyphs" >Degree of Crystallinity (%)</text>
<text x="35.10" y="851.70" font-family='"Liberation Serif", serif' font-size="21.3" text-anchor="middle" fill="#222" stroke="#222" stroke-width="0.414" transform="rotate(-90 35.10 851.70)" textLength="208.0" lengthAdjust="spacingAndGlyphs" >Flexural Strength (MPa)</text>
<path d="M24.9,703.2 H38.3 A6.7,8.5 0 1 0 37.0,708.6" fill="none" stroke="#000" stroke-width="2.0" stroke-linecap="butt" stroke-linejoin="round"/>
<rect x="531.10" y="719.00" width="358.50" height="267.60" fill="none" stroke="#333" stroke-width="2.4"/>
<line x1="531.10" y1="986.60" x2="531.10" y2="992.60" stroke="#333" stroke-width="2.04" />
<line x1="552.19" y1="986.60" x2="552.19" y2="990.10" stroke="#333" stroke-width="2.04" />
<line x1="573.28" y1="986.60" x2="573.28" y2="992.60" stroke="#333" stroke-width="2.04" />
<line x1="594.36" y1="986.60" x2="594.36" y2="990.10" stroke="#333" stroke-width="2.04" />
<line x1="615.45" y1="986.60" x2="615.45" y2="992.60" stroke="#333" stroke-width="2.04" />
<line x1="636.54" y1="986.60" x2="636.54" y2="990.10" stroke="#333" stroke-width="2.04" />
<line x1="657.63" y1="986.60" x2="657.63" y2="992.60" stroke="#333" stroke-width="2.04" />
<line x1="678.72" y1="986.60" x2="678.72" y2="990.10" stroke="#333" stroke-width="2.04" />
<line x1="699.81" y1="986.60" x2="699.81" y2="992.60" stroke="#333" stroke-width="2.04" />
<line x1="720.89" y1="986.60" x2="720.89" y2="990.10" stroke="#333" stroke-width="2.04" />
<line x1="741.98" y1="986.60" x2="741.98" y2="992.60" stroke="#333" stroke-width="2.04" />
<line x1="763.07" y1="986.60" x2="763.07" y2="990.10" stroke="#333" stroke-width="2.04" />
<line x1="784.16" y1="986.60" x2="784.16" y2="992.60" stroke="#333" stroke-width="2.04" />
<line x1="805.25" y1="986.60" x2="805.25" y2="990.10" stroke="#333" stroke-width="2.04" />
<line x1="826.34" y1="986.60" x2="826.34" y2="992.60" stroke="#333" stroke-width="2.04" />
<line x1="847.42" y1="986.60" x2="847.42" y2="990.10" stroke="#333" stroke-width="2.04" />
<line x1="868.51" y1="986.60" x2="868.51" y2="992.60" stroke="#333" stroke-width="2.04" />
<text x="531.10" y="1009.00" font-family='"Liberation Sans", sans-serif' font-size="16" text-anchor="middle" fill="#222" stroke="#222" stroke-width="0.489" >20</text>
<text x="573.28" y="1009.00" font-family='"Liberation Sans", sans-serif' font-size="16" text-anchor="middle" fill="#222" stroke="#222" stroke-width="0.489" >22</text>
<text x="615.45" y="1009.00" font-family='"Liberation Sans", sans-serif' font-size="16" text-anchor="middle" fill="#222" stroke="#222" stroke-width="0.489" >24</text>
<text x="657.63" y="1009.00" font-family='"Liberation Sans", sans-serif' font-size="16" text-anchor="middle" fill="#222" stroke="#222" stroke-width="0.489" >26</text>
<text x="699.81" y="1009.00" font-family='"Liberation Sans", sans-serif' font-size="16" text-anchor="middle" fill="#222" stroke="#222" stroke-width="0.489" >28</text>
<text x="741.98" y="1009.00" font-family='"Liberation Sans", sans-serif' font-size="16" text-anchor="middle" fill="#222" ><tspan fill="#bdbdbd">30</tspan></text>
<text x="784.16" y="1009.00" font-family='"Liberation Sans", sans-serif' font-size="16" text-anchor="middle" fill="#222" ><tspan fill="#bdbdbd">3</tspan><tspan fill="#222" stroke="#222" stroke-width="0.45">2</tspan></text>
<text x="826.34" y="1009.00" font-family='"Liberation Sans", sans-serif' font-size="16" text-anchor="middle" fill="#222" ><tspan fill="#666">3</tspan><tspan fill="#bdbdbd">4</tspan></text>
<text x="868.51" y="1009.00" font-family='"Liberation Sans", sans-serif' font-size="16" text-anchor="middle" fill="#222" ><tspan fill="#8a8a8a">3</tspan><tspan fill="#222" stroke="#222" stroke-width="0.45">6</tspan></text>
<line x1="525.10" y1="986.60" x2="531.10" y2="986.60" stroke="#333" stroke-width="2.04" />
<line x1="527.60" y1="969.88" x2="531.10" y2="969.88" stroke="#333" stroke-width="2.04" />
<line x1="525.10" y1="953.15" x2="531.10" y2="953.15" stroke="#333" stroke-width="2.04" />
<line x1="527.60" y1="936.43" x2="531.10" y2="936.43" stroke="#333" stroke-width="2.04" />
<line x1="525.10" y1="919.70" x2="531.10" y2="919.70" stroke="#333" stroke-width="2.04" />
<line x1="527.60" y1="902.98" x2="531.10" y2="902.98" stroke="#333" stroke-width="2.04" />
<line x1="525.10" y1="886.25" x2="531.10" y2="886.25" stroke="#333" stroke-width="2.04" />
<line x1="527.60" y1="869.52" x2="531.10" y2="869.52" stroke="#333" stroke-width="2.04" />
<line x1="525.10" y1="852.80" x2="531.10" y2="852.80" stroke="#333" stroke-width="2.04" />
<line x1="527.60" y1="836.08" x2="531.10" y2="836.08" stroke="#333" stroke-width="2.04" />
<line x1="525.10" y1="819.35" x2="531.10" y2="819.35" stroke="#333" stroke-width="2.04" />
<line x1="527.60" y1="802.62" x2="531.10" y2="802.62" stroke="#333" stroke-width="2.04" />
<line x1="525.10" y1="785.90" x2="531.10" y2="785.90" stroke="#333" stroke-width="2.04" />
<line x1="527.60" y1="769.17" x2="531.10" y2="769.17" stroke="#333" stroke-width="2.04" />
<line x1="525.10" y1="752.45" x2="531.10" y2="752.45" stroke="#333" stroke-width="2.04" />
<line x1="527.60" y1="735.73" x2="531.10" y2="735.73" stroke="#333" stroke-width="2.04" />
<line x1="525.10" y1="719.00" x2="531.10" y2="719.00" stroke="#333" stroke-width="2.04" />
<text x="520.90" y="991.58" font-family='"Liberation Sans", sans-serif' font-size="15.5" text-anchor="end" fill="#222" stroke="#222" stroke-width="0.474" >3</text>
<text x="520.90" y="958.13" font-family='"Liberation Sans", sans-serif' font-size="15.5" text-anchor="end" fill="#222" stroke="#222" stroke-width="0.474" >4</text>
<text x="520.90" y="924.68" font-family='"Liberation Sans", sans-serif' font-size="15.5" text-anchor="end" fill="#222" stroke="#222" stroke-width="0.474" >5</text>
<text x="520.90" y="891.23" font-family='"Liberation Sans", sans-serif' font-size="15.5" text-anchor="end" fill="#222" stroke="#222" stroke-width="0.474" >6</text>
<text x="520.90" y="857.78" font-family='"Liberation Sans", sans-serif' font-size="15.5" text-anchor="end" fill="#222" stroke="#222" stroke-width="0.474" >7</text>
<text x="520.90" y="824.33" font-family='"Liberation Sans", sans-serif' font-size="15.5" text-anchor="end" fill="#222" stroke="#222" stroke-width="0.474" >8</text>
<text x="520.90" y="790.88" font-family='"Liberation Sans", sans-serif' font-size="15.5" text-anchor="end" fill="#222" stroke="#222" stroke-width="0.474" >9</text>
<text x="520.90" y="757.43" font-family='"Liberation Sans", sans-serif' font-size="15.5" text-anchor="end" fill="#222" stroke="#222" stroke-width="0.474" >10</text>
<text x="520.90" y="723.98" font-family='"Liberation Sans", sans-serif' font-size="15.5" text-anchor="end" fill="#222" stroke="#222" stroke-width="0.474" >11</text>
<path d="M558.51,962.18 L649.19,947.46 M649.19,947.46 L718.79,917.36 M718.79,917.36 L777.83,864.51 M777.83,864.51 L803.14,803.63 M803.14,803.63 L836.88,807.64 M836.88,807.64 L851.64,769.84" fill="none" stroke="#111" stroke-width="1.8"/>
<line x1="558.51" y1="942.78" x2="558.51" y2="981.58" stroke="#444" stroke-width="1.3" />
<line x1="555.61" y1="942.78" x2="561.41" y2="942.78" stroke="#444" stroke-width="1.3" />
<line x1="555.61" y1="981.58" x2="561.41" y2="981.58" stroke="#444" stroke-width="1.3" />
<rect x="555.21" y="958.88" width="6.6" height="6.6" fill="#111"/>
<line x1="649.19" y1="933.41" x2="649.19" y2="961.51" stroke="#444" stroke-width="1.3" />
<line x1="646.29" y1="933.41" x2="652.09" y2="933.41" stroke="#444" stroke-width="1.3" />
<line x1="646.29" y1="961.51" x2="652.09" y2="961.51" stroke="#444" stroke-width="1.3" />
<rect x="645.89" y="944.16" width="6.6" height="6.6" fill="#111"/>
<line x1="718.79" y1="887.92" x2="718.79" y2="946.79" stroke="#444" stroke-width="1.3" />
<line x1="715.89" y1="887.92" x2="721.69" y2="887.92" stroke="#444" stroke-width="1.3" />
<line x1="715.89" y1="946.79" x2="721.69" y2="946.79" stroke="#444" stroke-width="1.3" />
<rect x="715.49" y="914.06" width="6.6" height="6.6" fill="#111"/>
<line x1="777.83" y1="838.42" x2="777.83" y2="890.60" stroke="#444" stroke-width="1.3" />
<line x1="774.93" y1="838.42" x2="780.73" y2="838.42" stroke="#444" stroke-width="1.3" />
<line x1="774.93" y1="890.60" x2="780.73" y2="890.60" stroke="#444" stroke-width="1.3" />
<rect x="774.53" y="861.21" width="6.6" height="6.6" fill="#111"/>
<line x1="803.14" y1="790.92" x2="803.14" y2="816.34" stroke="#444" stroke-width="1.3" />
<line x1="800.24" y1="790.92" x2="806.04" y2="790.92" stroke="#444" stroke-width="1.3" />
<line x1="800.24" y1="816.34" x2="806.04" y2="816.34" stroke="#444" stroke-width="1.3" />
<rect x="799.84" y="800.33" width="6.6" height="6.6" fill="#111"/>
<line x1="836.88" y1="789.91" x2="836.88" y2="825.37" stroke="#444" stroke-width="1.3" />
<line x1="833.98" y1="789.91" x2="839.78" y2="789.91" stroke="#444" stroke-width="1.3" />
<line x1="833.98" y1="825.37" x2="839.78" y2="825.37" stroke="#444" stroke-width="1.3" />
<rect x="833.58" y="804.34" width="6.6" height="6.6" fill="#111"/>
<line x1="851.64" y1="735.39" x2="851.64" y2="804.30" stroke="#444" stroke-width="1.3" />
<line x1="848.74" y1="735.39" x2="854.54" y2="735.39" stroke="#444" stroke-width="1.3" />
<line x1="848.74" y1="804.30" x2="854.54" y2="804.30" stroke="#444" stroke-width="1.3" />
<rect x="848.34" y="766.54" width="6.6" height="6.6" fill="#111"/>
<text x="711.00" y="1036.50" font-family='"Liberation Serif", serif' font-size="20.9" text-anchor="middle" fill="#222" stroke="#222" stroke-width="0.406" textLength="229.0" lengthAdjust="spacingAndGlyphs" >Degree of Crystallinity (%)</text>
<text x="499.00" y="853.00" font-family='"Liberation Serif", serif' font-size="21.6" text-anchor="middle" fill="#222" stroke="#222" stroke-width="0.42" transform="rotate(-90 499.00 853.00)" textLength="211.0" lengthAdjust="spacingAndGlyphs" >Flexural Modulus (GPa)</text>
<path d="M478.8,701.3 H488.2" fill="none" stroke="#000" stroke-width="2.0" stroke-linecap="butt" stroke-linejoin="round"/>
<path d="M483,718.3 V700 C483,696 484.5,694.6 488.8,694.7" fill="none" stroke="#000" stroke-width="2.0" stroke-linecap="butt" stroke-linejoin="round"/>
</g>
<rect x="0" y="0" width="891" height="31" fill="#000"/>
<rect x="0" y="0" width="17" height="358.7" fill="#000"/>
<rect x="0" y="0" width="10.1" height="1050" fill="#000"/>
<rect x="443.3" y="0" width="22.7" height="358.7" fill="#000"/>
<rect x="443.3" y="0" width="448" height="34" fill="#000"/>
<rect x="0" y="1048.3" width="891" height="2" fill="#000"/>
</svg></body></html>
